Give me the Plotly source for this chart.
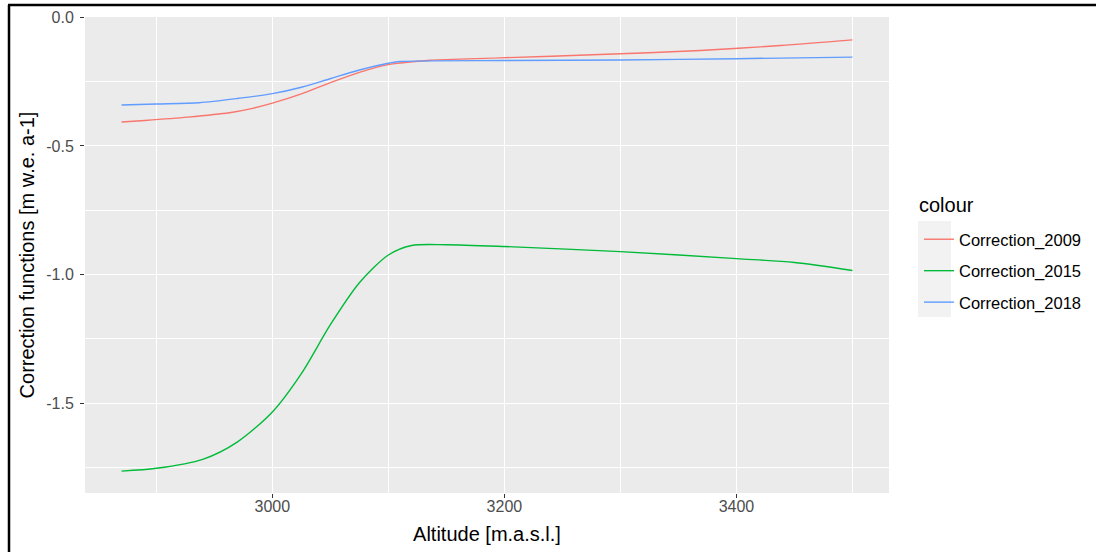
import plotly.graph_objects as go

# ---- data ----
alt_2009 = [2870, 2890, 2927, 2963, 2983, 3000, 3025, 3049, 3075, 3101, 3110, 3136, 3196, 3282, 3369, 3438, 3500]
corr_2009 = [-0.407, -0.401, -0.388, -0.371, -0.354, -0.334, -0.298, -0.256, -0.214, -0.183, -0.178, -0.167, -0.158, -0.145, -0.129, -0.110, -0.088]

alt_2015 = [2870, 2900, 2940, 2970, 3000, 3025, 3050, 3075, 3100, 3120, 3150, 3200, 3300, 3400, 3450, 3500]
corr_2015 = [-1.764, -1.753, -1.718, -1.650, -1.534, -1.385, -1.195, -1.032, -0.924, -0.887, -0.884, -0.891, -0.911, -0.938, -0.953, -0.984]

alt_2018 = [2870, 2900, 2937, 2971, 3000, 3025, 3049, 3075, 3101, 3110, 3200, 3300, 3400, 3500]
corr_2018 = [-0.341, -0.337, -0.332, -0.315, -0.297, -0.272, -0.240, -0.205, -0.178, -0.172, -0.168, -0.166, -0.161, -0.155]

series_names = ["Correction_2009", "Correction_2015", "Correction_2018"]
series_colors = ["#F8766D", "#00BA38", "#619CFF"]
legend_title = "colour"

x_ticks = [3000, 3200, 3400]
x_tick_labels = ["3000", "3200", "3400"]
y_ticks = [0.0, -0.5, -1.0, -1.5]
y_tick_labels = ["0.0", "-0.5", "-1.0", "-1.5"]

FONT = "Liberation Sans, Arial, sans-serif"

fig = go.Figure()
for name, xs, ys, col in zip(series_names,
                             [alt_2009, alt_2015, alt_2018],
                             [corr_2009, corr_2015, corr_2018],
                             series_colors):
    fig.add_trace(go.Scatter(x=xs, y=ys, mode="lines", name=name,
                             legendgroup=name,
                             line=dict(color=col, width=1.4, shape="spline", smoothing=0.8)))

# panel pixel geometry
L, R, T, B = 85, 889, 17, 493
PW, PH = R - L, B - T

def px(x):
    return (x - L) / PW

def py(y):
    return (B - y) / PH

shapes = [
    # grey legend key background
    dict(type="rect", xref="paper", yref="paper",
         x0=px(918), x1=px(951), y0=py(317), y1=py(221),
         fillcolor="#F2F2F2", line=dict(width=0), layer="below"),
    # frame lines of the cropped screenshot
    dict(type="line", xref="paper", yref="paper",
         x0=px(8), x1=px(1096), y0=py(5), y1=py(5),
         line=dict(color="black", width=2.5)),
    dict(type="line", xref="paper", yref="paper",
         x0=px(9), x1=px(9), y0=py(5), y1=py(552),
         line=dict(color="black", width=2.5)),
]

annotations = [
    dict(text=legend_title, xref="paper", yref="paper", x=px(917), y=py(205),
         xanchor="left", yanchor="middle", showarrow=False,
         font=dict(size=20, color="black", family=FONT)),
]

fig.update_layout(
    width=1096, height=552,
    margin=dict(l=L, r=1096 - R, t=T, b=552 - B, autoexpand=False),
    paper_bgcolor="white",
    plot_bgcolor="#EBEBEB",
    font=dict(family=FONT, color="#4D4D4D", size=16),
    showlegend=True,
    legend=dict(
        font=dict(size=16.5, color="black", family=FONT),
        x=px(919), xanchor="left", y=py(222), yanchor="top",
        bgcolor="rgba(0,0,0,0)", tracegroupgap=7,
    ),
    shapes=shapes,
    annotations=annotations,
    xaxis=dict(
        range=[2838.5, 3531.5],
        tickvals=x_ticks, ticktext=x_tick_labels,
        showgrid=True, gridcolor="white", gridwidth=1.4,
        zeroline=False, showline=False,
        ticks="outside", ticklen=4, tickcolor="#333333", tickwidth=1.2,
        ticklabelstandoff=-5,
        tickfont=dict(size=16, color="#4D4D4D"),
        minor=dict(tickvals=[2900, 3100, 3300, 3500], showgrid=True,
                   gridcolor="white", gridwidth=0.7, ticks=""),
        title=dict(text="Altitude [m.a.s.l.]", font=dict(size=20, color="black"), standoff=12),
    ),
    yaxis=dict(
        range=[-1.849, 0.001],
        tickvals=y_ticks, ticktext=y_tick_labels,
        showgrid=True, gridcolor="white", gridwidth=1.4,
        zeroline=False, showline=False,
        ticks="outside", ticklen=4, tickcolor="#333333", tickwidth=1.2,
        ticklabelstandoff=3,
        tickfont=dict(size=16, color="#4D4D4D"),
        minor=dict(tickvals=[-0.25, -0.75, -1.25, -1.75], showgrid=True,
                   gridcolor="white", gridwidth=0.7, ticks=""),
        title=dict(text="Correction functions [m w.e. a-1]", font=dict(size=20, color="black"), standoff=6),
    ),
)

fig.write_html("out.html", config={"displayModeBar": False},
               post_script="document.body.style.margin='0';")
